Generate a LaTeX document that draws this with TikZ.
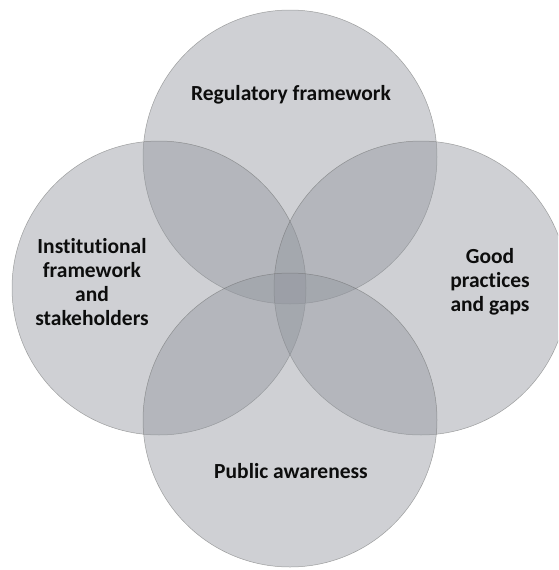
\documentclass[tikz,border=0pt]{standalone}
\usepackage{fontspec}
\setmainfont{Carlito}[Ligatures=NoCommon]
\definecolor{ringgray}{RGB}{145,149,157}

\begin{document}
\begin{tikzpicture}[x=1pt,y=-1pt]
    \tikzstyle{ring}=[circle,minimum size=294pt,inner sep=0pt,fill=ringgray,fill opacity=0.44,draw=black!60,draw opacity=0.55,line width=0.5pt]
    \tikzstyle{caption}=[align=center,inner sep=0pt,text=black!95,font=\bfseries\fontsize{21.5}{24}\selectfont]
    \useasboundingbox (0,0) rectangle (558,570);
    \clip (0,0) rectangle (558,570);
    % the four overlapping areas
      \node[ring] (reg) at (290,157) {};
      \node[ring] (inst) at (159,288) {};
      \node[ring] (good) at (421,288) {};
      \node[ring] (pub) at (290,420) {};
    % their captions
      \node[caption] (regtext) at (291,95) {Regulatory framework};
      \node[caption] (insttext) at (92,282) {Institutional\\framework\\and\\stakeholders};
      \node[caption] (goodtext) at (490,282) {Good\\practices\\and gaps};
      \node[caption] (pubtext) at (291,471) {Public awareness};
\end{tikzpicture}
\end{document}
